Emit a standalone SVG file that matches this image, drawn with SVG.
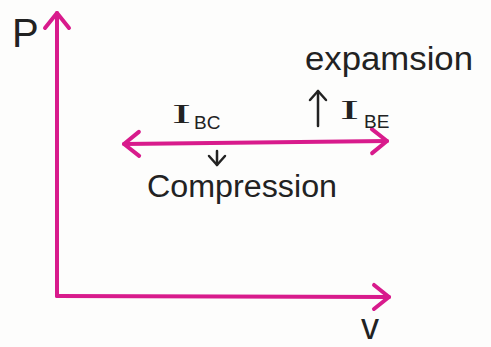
<svg xmlns="http://www.w3.org/2000/svg" width="491" height="347" viewBox="0 0 491 347">
<style>
.ax{fill:none;stroke:#d81b8c;stroke-width:4;stroke-linecap:round;stroke-linejoin:round}
.sm{fill:none;stroke:#222;stroke-width:2.5;stroke-linecap:round;stroke-linejoin:round}
.t{font-family:"Liberation Sans",Arial,sans-serif;fill:#222}
.ti{font-family:"Liberation Serif","Times New Roman",serif;fill:#222}
</style>
<defs>
<marker id="big" markerUnits="userSpaceOnUse" markerWidth="40" markerHeight="40" viewBox="-20 -20 40 40" refX="0" refY="0" orient="auto-start-reverse">
<path d="M-15 -12 L0 0 L-15 12" fill="none" stroke="#d81b8c" stroke-width="4" stroke-linecap="round" stroke-linejoin="round"/>
</marker>
<marker id="small" markerUnits="userSpaceOnUse" markerWidth="24" markerHeight="24" viewBox="-12 -12 24 24" refX="0" refY="0" orient="auto">
<path d="M-9 -8 L0 0 L-9 8" fill="none" stroke="#222" stroke-width="2.5" stroke-linecap="round" stroke-linejoin="round"/>
</marker>
</defs>
<rect width="491" height="347" fill="#fdfdfc"/>
<g id="connectors">
<path class="ax" d="M57 296 L57 13" marker-end="url(#big)"/>
<path class="ax" d="M57 296 L389 297" marker-end="url(#big)"/>
<path class="ax" d="M124 144 L387 141" marker-start="url(#big)" marker-end="url(#big)"/>
<path class="sm" d="M318 126 L318 91" marker-end="url(#small)"/>
<path class="sm" d="M217 151 L217 165" marker-end="url(#small)"/>
</g>
<g id="label-p"><text class="t" x="12" y="47" font-size="40">P</text></g>
<g id="label-v"><text class="t" x="361" y="339" font-size="36">v</text></g>
<g id="label-ibc"><text class="ti" x="172" y="123" font-size="28" textLength="19" lengthAdjust="spacingAndGlyphs">I</text><text class="t" x="194" y="129" font-size="19">BC</text></g>
<g id="label-ibe"><text class="ti" x="340" y="119" font-size="28" textLength="19" lengthAdjust="spacingAndGlyphs">I</text><text class="t" x="364" y="128" font-size="19">BE</text></g>
<g id="label-expansion"><text class="t" x="305" y="70" font-size="34" textLength="168" lengthAdjust="spacingAndGlyphs">expamsion</text></g>
<g id="label-compression"><text class="t" x="147" y="197" font-size="31" textLength="190" lengthAdjust="spacingAndGlyphs">Compression</text></g>
</svg>
